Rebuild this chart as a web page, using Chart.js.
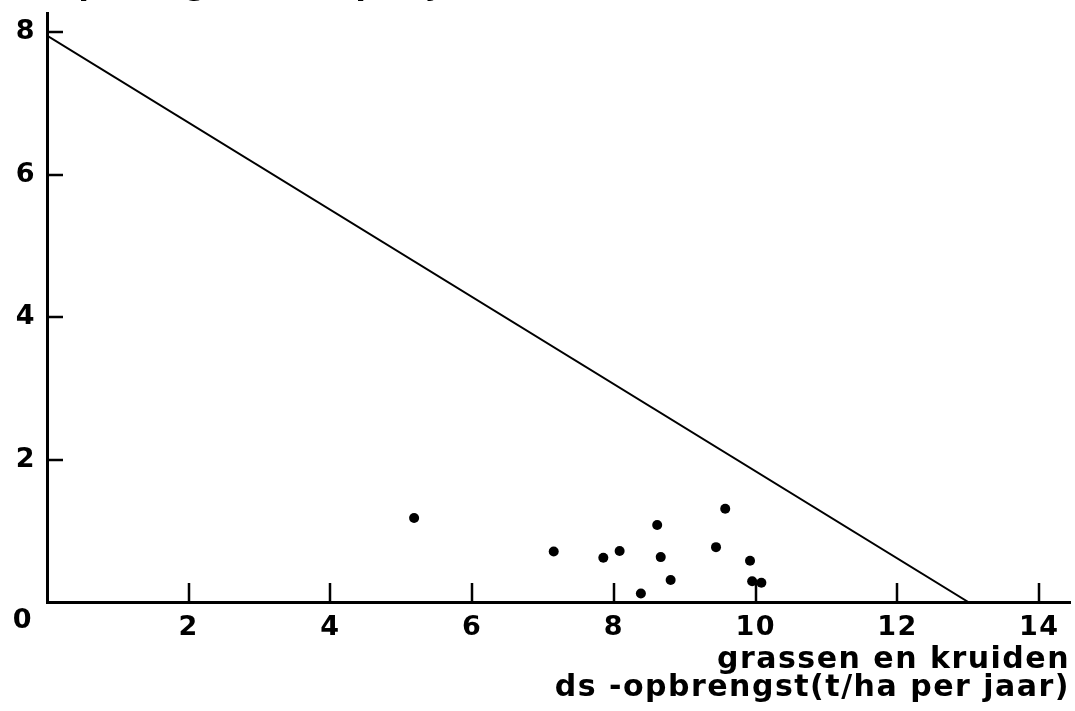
<!DOCTYPE html>
<html><head><meta charset="utf-8">
<script src="https://cdn.jsdelivr.net/npm/chart.js@4.4.1/dist/chart.umd.min.js"></script>
<style>html,body{margin:0;padding:0;background:#fff;overflow:hidden}#wrap{width:1075px;height:711px;position:relative}</style>
</head><body><div id="wrap"><canvas id="c" width="1075" height="711"></canvas></div>
<script>
// data
const pointsX = [5.18, 7.15, 7.85, 8.08, 8.38, 8.61, 8.66, 8.80, 9.44, 9.57, 9.92, 9.95, 10.08];
const pointsY = [1.18, 0.71, 0.62, 0.715, 0.12, 1.08, 0.63, 0.31, 0.77, 1.31, 0.58, 0.29, 0.27];
const lineX = [0, 13];
const lineY = [7.95, 0];
const xTicks = [2, 4, 6, 8, 10, 12, 14];
const yTicks = [2, 4, 6, 8];
const originLabel = '0';
const xTitle = ['grassen en kruiden', 'ds -opbrengst(t/ha per jaar)'];
const topTitle = 'ds-opbrengst (t/ha per jaar)';

const FONT = "'DejaVu Sans'";
const SPACING = '1.5px';

const spacingPlugin = {
  id: 'spacing',
  beforeUpdate(c) { c.ctx.letterSpacing = SPACING; },
  beforeDraw(c) { c.ctx.letterSpacing = SPACING; }
};

const extrasPlugin = {
  id: 'extras',
  afterDraw(c) {
    const ctx = c.ctx, xs = c.scales.x, ys = c.scales.y;
    ctx.save();
    ctx.letterSpacing = SPACING;
    ctx.strokeStyle = '#000';
    ctx.lineWidth = 2.5;
    ctx.beginPath();
    xs.ticks.forEach(t => {
      const px = Math.round(xs.getPixelForValue(t.value));
      ctx.moveTo(px, ys.bottom);
      ctx.lineTo(px, ys.bottom - 19);
    });
    ys.ticks.forEach(t => {
      const py = Math.round(ys.getPixelForValue(t.value));
      ctx.moveTo(xs.left, py);
      ctx.lineTo(xs.left + 16, py);
    });
    ctx.stroke();
    ctx.fillStyle = '#000';
    ctx.font = 'bold 27px ' + FONT;
    ctx.textAlign = 'center';
    ctx.textBaseline = 'middle';
    ctx.fillText(originLabel, xs.getPixelForValue(0) - 24, ys.getPixelForValue(0) + 19);
    ctx.font = 'bold 30px ' + FONT;
    ctx.textAlign = 'left';
    ctx.textBaseline = 'alphabetic';
    ctx.fillText(topTitle, 0, -5);
    ctx.restore();
  }
};

new Chart(document.getElementById('c'), {
  type: 'scatter',
  data: {
    datasets: [
      {
        data: pointsX.map((x, i) => ({x: x, y: pointsY[i]})),
        backgroundColor: '#000',
        borderWidth: 0,
        pointRadius: 5,
        showLine: false
      },
      {
        data: lineX.map((x, i) => ({x: x, y: lineY[i]})),
        borderColor: '#000',
        borderWidth: 2,
        pointRadius: 0,
        showLine: true,
        fill: false
      }
    ]
  },
  options: {
    responsive: false,
    devicePixelRatio: 1,
    animation: false,
    layout: {padding: {top: 13, right: 0, left: 0, bottom: 0}},
    plugins: {legend: {display: false}, tooltip: {enabled: false}, title: {display: false}},
    scales: {
      x: {
        type: 'linear',
        min: 0, max: 14.435,
        afterBuildTicks: s => { s.ticks = xTicks.map(v => ({value: v})); },
        afterFit: s => { s.height = 109; s.paddingLeft = 0; s.paddingRight = 0; },
        grid: {display: false, drawTicks: false},
        border: {display: true, color: '#000', width: 3},
        ticks: {color: '#000', font: {family: FONT, size: 27, weight: 'bold'}, padding: 10, maxRotation: 0, autoSkip: false, includeBounds: false},
        title: {
          display: true, text: xTitle, align: 'end', color: '#000',
          font: {family: FONT, size: 30, weight: 'bold', lineHeight: 0.93},
          padding: {top: 0, bottom: 9}
        }
      },
      y: {
        type: 'linear',
        min: 0, max: 8.267,
        afterBuildTicks: s => { s.ticks = yTicks.map(v => ({value: v})); },
        afterFit: s => { s.width = 47; s.paddingTop = 0; s.paddingBottom = 0; },
        grid: {display: false, drawTicks: false},
        border: {display: true, color: '#000', width: 3},
        ticks: {color: '#000', font: {family: FONT, size: 27, weight: 'bold'}, padding: 11, autoSkip: false, includeBounds: false}
      }
    }
  },
  plugins: [spacingPlugin, extrasPlugin]
});
</script>
</body></html>
